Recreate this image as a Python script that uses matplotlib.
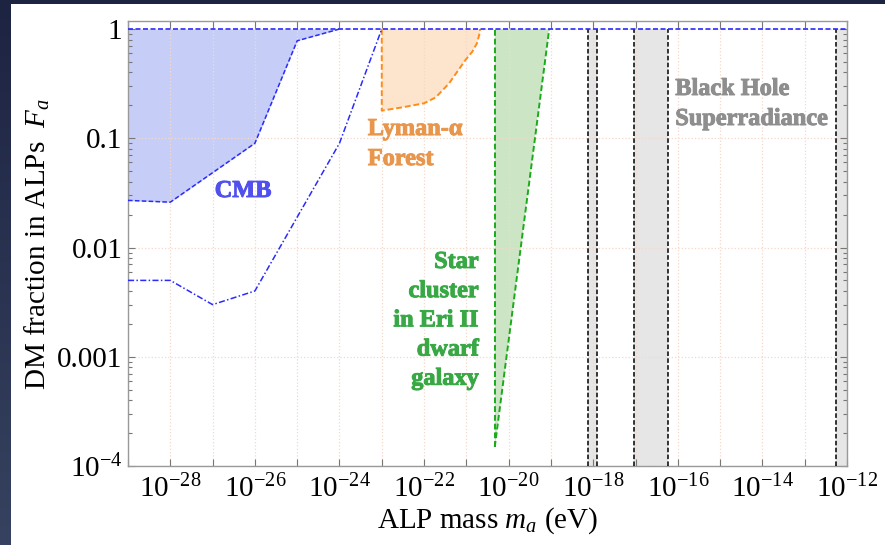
import matplotlib
matplotlib.use("Agg")
import numpy as np
import matplotlib.pyplot as plt
import matplotlib.patheffects as pe
from matplotlib.colors import LinearSegmentedColormap
from matplotlib.patches import Rectangle
from matplotlib.ticker import LogLocator, NullLocator, NullFormatter

plt.rcParams.update({
    "font.family": "Liberation Serif",
    "mathtext.fontset": "custom",
    "mathtext.rm": "Liberation Serif",
    "mathtext.it": "Liberation Serif:italic",
    "mathtext.bf": "Liberation Serif:bold",
})

# ── data ──────────────────────────────────────────────────────────────────────
# CMB excluded region (filled) and weaker projected line
cmb_mass = [1e-29, 1e-28, 1e-26, 1e-25, 1e-24]
cmb_frac = [0.027, 0.026, 0.09, 0.78, 1.0]
cmb2_mass = [1e-29, 1e-28, 1e-27, 1e-26, 1e-24, 1e-23]
cmb2_frac = [0.005, 0.005, 0.003, 0.004, 0.09, 1.0]

# Lyman-alpha forest
lya_mass = [1e-23, 1e-23, 3.1e-23, 1e-22, 1.9e-22, 3.9e-22, 9.5e-22, 1.38e-21, 1.78e-21, 2.1e-21, 2.1e-21]
lya_frac = [1.0, 0.179, 0.192, 0.209, 0.237, 0.318, 0.52, 0.62, 0.74, 0.94, 1.0]

# Star cluster in Eri II
eri_mass = [4.7e-21, 4.7e-21, 9.1e-20]
eri_frac = [1.5e-4, 1.0, 1.0]

# Black hole superradiance bands (m_low, m_high)
bh_bands = [(7.6e-19, 1.2e-18), (9.1e-18, 5.8e-17), (5.4e-13, 1.2e-12)]

x_exps = list(range(-29, -11))
y_ticks = [1e-4, 1e-3, 1e-2, 1e-1, 1.0]
y_ticklabels = [r"$10^{-4}$", "0.001", "0.01", "0.1", "1"]

# ── colours ───────────────────────────────────────────────────────────────────
BLUE_LINE = "#2a2aff"
BLUE_FILL = "#c6cef8"
BLUE_TXT = "#5050ee"
ORANGE_LINE = "#ff8c1a"
ORANGE_FILL = "#fde4cc"
ORANGE_TXT = "#e8964c"
GREEN_LINE = "#1aaa1a"
GREEN_FILL = "#cce6c5"
GREEN_TXT = "#38a845"
GREY_FILL = "#e6e6e6"
GREY_TXT = "#8e8e8e"

W, H = 885, 545
fig = plt.figure(figsize=(W / 100, H / 100), dpi=100)

# slide background: navy strip on left/top
bg = fig.add_axes([0, 0, 1, 1], zorder=-5)
grad = np.linspace(0, 1, 256).reshape(-1, 1)
cmap = LinearSegmentedColormap.from_list("navy", ["#1d2442", "#36425f"])
bg.imshow(grad, extent=[0, 1, 0, 1], aspect="auto", cmap=cmap, origin="upper")
bg.add_patch(Rectangle((11 / W, 0), 1, 1 - 4 / H, color="white", lw=0))
bg.set_xlim(0, 1)
bg.set_ylim(0, 1)
bg.axis("off")

ax = fig.add_axes([128 / W, (H - 466) / H, (847 - 128) / W, (466 - 21) / H])
ax.set_xscale("log")
ax.set_yscale("log")
ax.set_xlim(1e-29, 1e-12)
ax.set_ylim(1e-4, 1.184)

# grid
ax.grid(True, which="major", color="#f5d8c8", ls=":", lw=0.9, zorder=0)

# CMB
ax.fill_between(cmb_mass, cmb_frac, 1.0, color=BLUE_FILL, lw=0, zorder=1)
ax.plot(cmb_mass, cmb_frac, color=BLUE_LINE, lw=1.1, ls=(0, (3, 1.5)), zorder=4)
ax.plot(cmb2_mass, cmb2_frac, color=BLUE_LINE, lw=1.1, ls=(0, (4, 1.5, 1, 1.5)), zorder=4)

# Lyman-alpha
ax.fill(lya_mass, lya_frac, color=ORANGE_FILL, lw=0, zorder=1)
ax.plot(lya_mass, lya_frac, color=ORANGE_LINE, lw=1.4, ls=(0, (3, 1.5)), zorder=3)

# Eri II
ax.fill(eri_mass, eri_frac, color=GREEN_FILL, lw=0, zorder=1)
ax.plot(eri_mass[:2], eri_frac[:2], color=GREEN_LINE, lw=1.4, ls=(0, (3, 1.5)), zorder=3)
ax.plot([eri_mass[0], eri_mass[2]], [eri_frac[0], eri_frac[2]], color=GREEN_LINE,
        lw=1.4, ls=(0, (3, 1.5)), zorder=3)

# black hole superradiance
for lo, hi in bh_bands:
    ax.fill_between([lo, hi], 1e-4, 1.0, color=GREY_FILL, lw=0, zorder=1)
    for xv in (lo, hi):
        ax.plot([xv, xv], [1e-4, 1.0], color="black", lw=1.1, ls=(0, (3, 1.5)), zorder=3)

# F = 1 line
ax.plot([1e-29, 1e-12], [1.0, 1.0], color=BLUE_LINE, lw=1.2, ls=(0, (3, 1.5)), zorder=5)


def label(text, x, y, ha, color, step):
    # one annotation per line so each baseline sits where the reference has it
    for i, line in enumerate(text.split("\n")):
        t = ax.annotate(line, xy=(x, y), xytext=(0, -i * step), textcoords="offset pixels",
                        ha=ha, va="baseline", color=color, fontsize=17.5,
                        fontweight="bold", zorder=6)
        t.set_path_effects([pe.withStroke(linewidth=0.7, foreground=color)])


label("CMB", 10 ** -26.28, 0.029, "center", BLUE_TXT, 30)
label("Lyman-\u03b1\nForest", 10 ** -23.33, 0.107, "left", ORANGE_TXT, 30)
label("Star\ncluster\nin Eri II\ndwarf\ngalaxy", 10 ** -20.71, 0.0065, "right", GREEN_TXT, 29.2)
label("Black Hole\nSuperradiance", 10 ** -16.06, 0.249, "left", GREY_TXT, 30)

# ticks
ax.set_xticks([10.0 ** e for e in x_exps],
              [r"$10^{%d}$" % e if e % 2 == 0 else "" for e in x_exps])
ax.xaxis.set_minor_locator(NullLocator())
ax.set_yticks(y_ticks, y_ticklabels)
ax.yaxis.set_minor_locator(LogLocator(base=10, subs=np.arange(2, 10), numticks=20))
ax.yaxis.set_minor_formatter(NullFormatter())
ax.tick_params(which="both", direction="in", top=True, right=True, color="#777777",
               labelsize=21, width=0.8)
ax.tick_params(which="major", length=5)
ax.tick_params(which="minor", length=3)
ax.tick_params(axis="x", pad=6)
ax.tick_params(axis="y", pad=4)
for s in ax.spines.values():
    s.set_color("#999999")
    s.set_linewidth(1.0)

ax.set_xlabel(r"ALP mass $m_a$ (eV)", fontsize=21, labelpad=2)
ax.set_ylabel(r"DM fraction in ALPs  $F_a$", fontsize=21, labelpad=4)

fig.savefig("out.png", dpi=100, facecolor="white")
